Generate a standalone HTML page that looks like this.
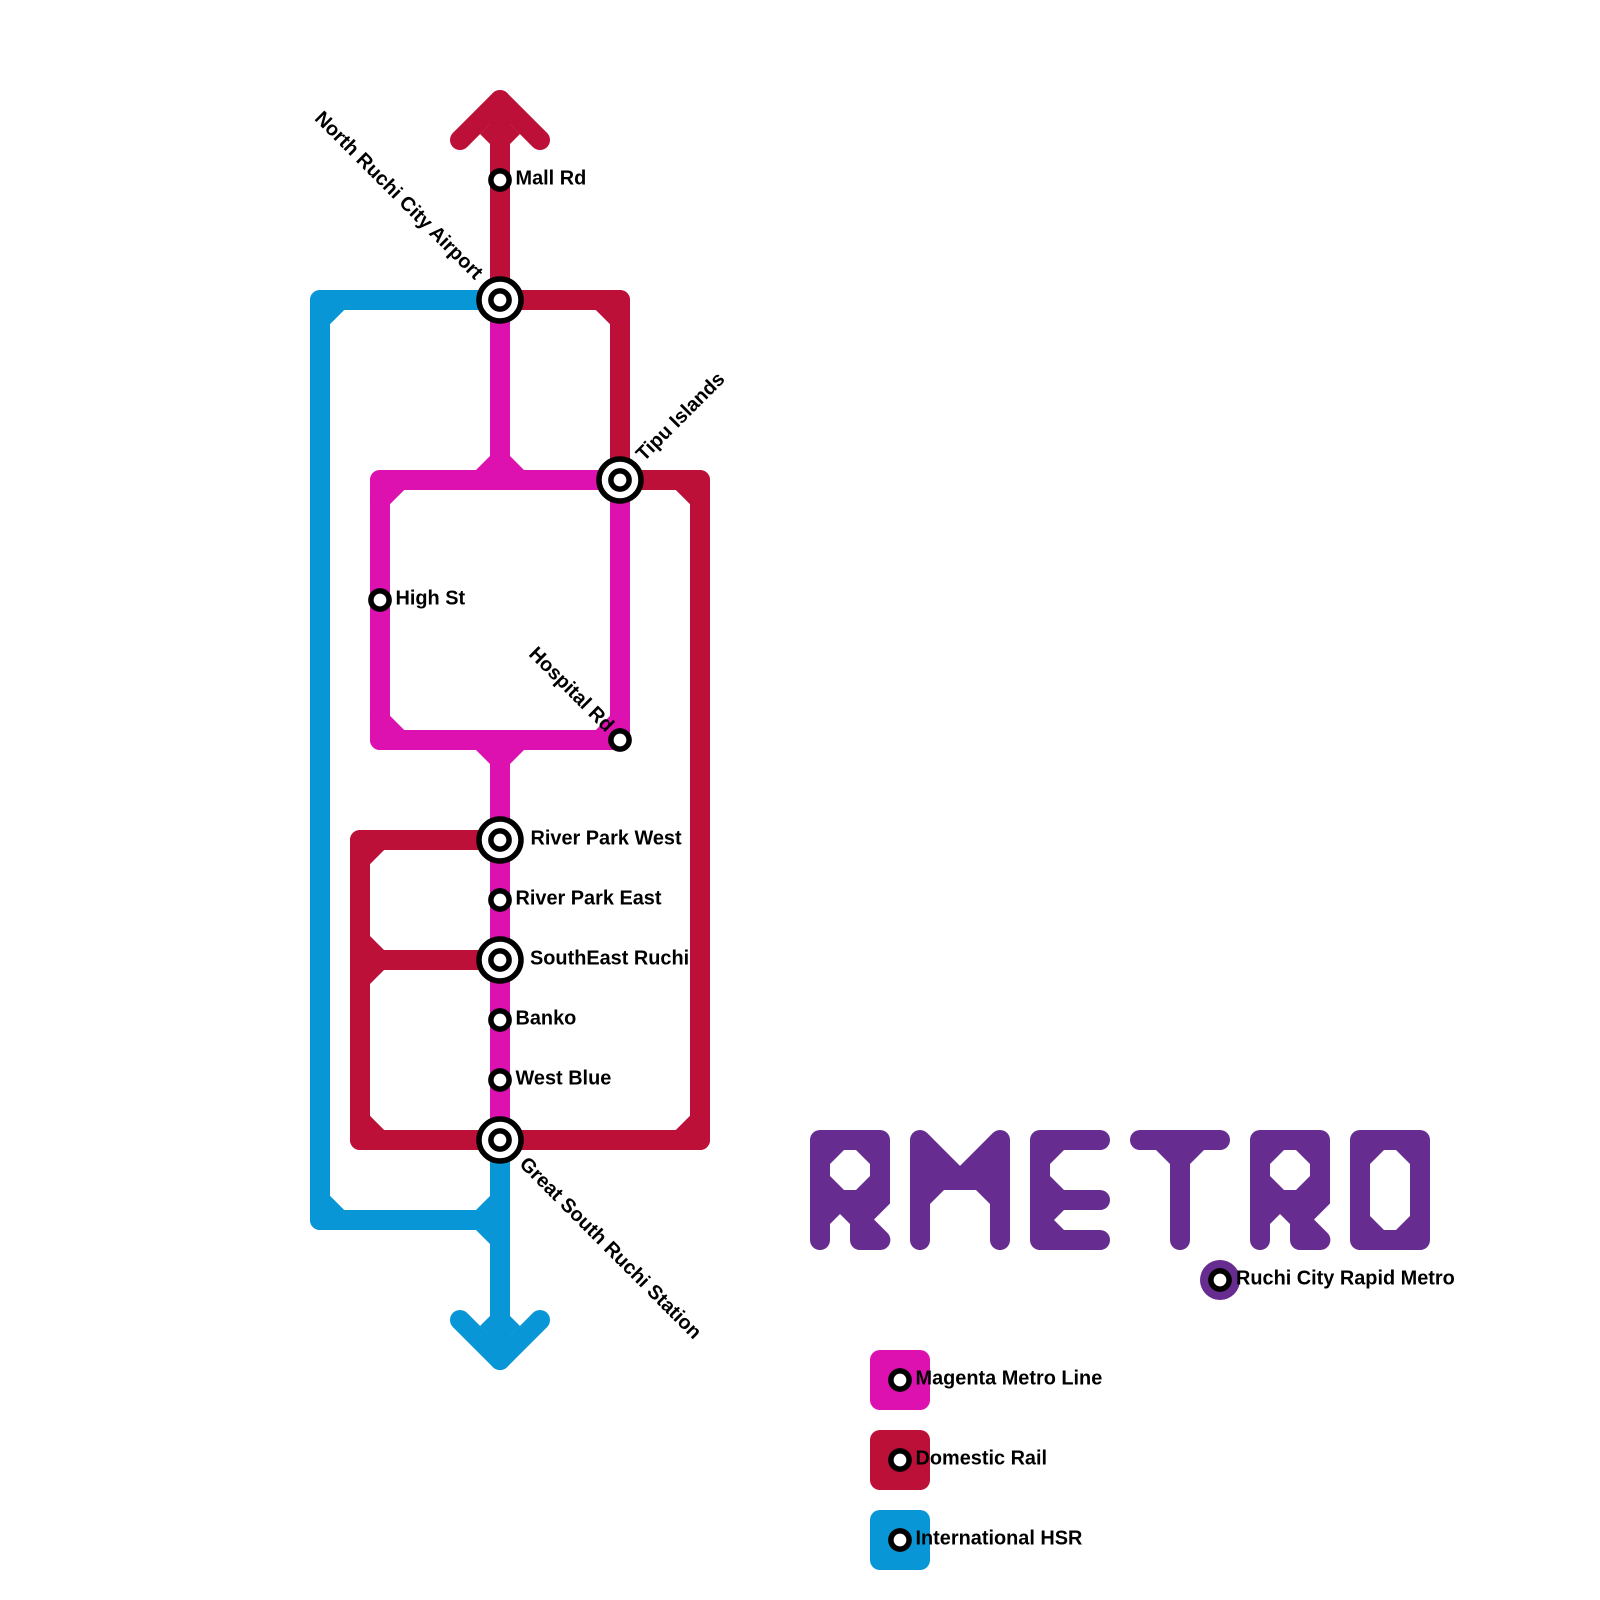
<!DOCTYPE html>
<html>
<head>
<meta charset="utf-8">
<style>
html,body{margin:0;padding:0;background:#fff}
svg{display:block}
text{font-family:"Liberation Sans",Arial,sans-serif;font-weight:bold;font-size:19.9px;fill:#000}
.l{fill:none;stroke-width:20;stroke-linecap:round;stroke-linejoin:round}
.c{stroke-width:20;stroke-linejoin:round}
.b{stroke:#0896d7}.r{stroke:#bd1038}.m{stroke:#dc11b0}
.t{stroke:none}
.s{fill:#fff;stroke:#000;stroke-width:5.5}
</style>
</head>
<body>
<svg width="1600" height="1600" viewBox="0 0 1600 1600" xmlns="http://www.w3.org/2000/svg">
<!-- blue -->
<path class="l b" d="M500 300H320V1220H500M500 1140V1360"/>
<path class="l b" d="M460 1320L500 1360L540 1320"/>
<g fill="#0896d7">
<path class="c b" d="M340 300H320V320Z"/>
<path class="c b" d="M320 1200V1220H340Z"/>
<polygon class="t" points="476,1210 490,1196 510,1196 510,1244 490,1244 476,1230"/>
<polygon class="t" points="480,1326 490,1316 510,1316 520,1326 500,1346"/>
</g>
<!-- red -->
<path class="l r" d="M500 100V300H620V480H700V1140H360V840H500M360 960H500"/>
<path class="l r" d="M460 140L500 100L540 140"/>
<g fill="#bd1038">
<path class="c r" d="M600 300H620V320Z"/>
<path class="c r" d="M680 480H700V500Z"/>
<path class="c r" d="M700 1120V1140H680Z"/>
<path class="c r" d="M380 1140H360V1120Z"/>
<path class="c r" d="M360 860V840H380Z"/>
<polygon class="t" points="350,916 370,936 384,950 384,970 370,984 350,1004"/>
<polygon class="t" points="480,134 490,144 510,144 520,134 500,114"/>
</g>
<!-- magenta -->
<path class="l m" d="M500 300V480M500 740V1140M620 480H380V740H620V480"/>
<g fill="#dc11b0">
<path class="c m" d="M400 480H380V500Z"/>
<path class="c m" d="M380 720V740H400Z"/>
<path class="c m" d="M600 740H620V720Z"/>
<polygon class="t" points="476,470 490,456 510,456 524,470"/>
<polygon class="t" points="476,750 524,750 510,764 490,764"/>
</g>
<!-- interchange stations -->
<g>
<circle class="s" cx="500" cy="300" r="21"/><circle class="s" cx="500" cy="300" r="9.1"/>
<circle class="s" cx="620" cy="480" r="21"/><circle class="s" cx="620" cy="480" r="9.1"/>
<circle class="s" cx="500" cy="840" r="21"/><circle class="s" cx="500" cy="840" r="9.1"/>
<circle class="s" cx="500" cy="960" r="21"/><circle class="s" cx="500" cy="960" r="9.1"/>
<circle class="s" cx="500" cy="1140" r="21"/><circle class="s" cx="500" cy="1140" r="9.1"/>
</g>
<!-- simple stations -->
<g>
<circle class="s" cx="500" cy="180" r="9.1"/>
<circle class="s" cx="380" cy="600" r="9.1"/>
<circle class="s" cx="620" cy="740" r="9.1"/>
<circle class="s" cx="500" cy="900" r="9.1"/>
<circle class="s" cx="500" cy="1020" r="9.1"/>
<circle class="s" cx="500" cy="1080" r="9.1"/>
</g>
<!-- labels -->
<text x="515.5" y="184.5">Mall Rd</text>
<text x="395.5" y="604.5">High St</text>
<text x="530.5" y="844.5">River Park West</text>
<text x="515.5" y="904.5">River Park East</text>
<text x="530" y="964.5">SouthEast Ruchi</text>
<text x="515.5" y="1024.5">Banko</text>
<text x="515.5" y="1084.5">West Blue</text>
<text text-anchor="end" transform="translate(475,280.5) rotate(45)">North Ruchi City Airport</text>
<text transform="translate(644,462) rotate(-45)">Tipu Islands</text>
<text text-anchor="end" transform="translate(606,733) rotate(45)">Hospital Rd</text>
<text transform="translate(518.5,1165) rotate(45)">Great South Ruchi Station</text>
<!-- title -->
<g fill="#662c90" fill-rule="evenodd">
<path d="M820 1130H880A10 10 0 0 1 890 1140V1203.5L874 1219.5L887.5 1233A10 10 0 0 1 880 1250H860A10 10 0 0 1 850 1240V1224L840 1214L830 1224V1240A10 10 0 0 1 810 1240V1140A10 10 0 0 1 820 1130ZM844 1150L830 1164V1176L844 1190H856L870 1176V1164L856 1150Z"/>
<path d="M910 1140A10 10 0 0 1 927.07 1132.93L960 1165.86L992.93 1132.93A10 10 0 0 1 1010 1140V1240A10 10 0 0 1 990 1240V1204L976 1190H944L930 1204V1240A10 10 0 0 1 910 1240Z"/>
<path d="M1040 1130H1100A10 10 0 0 1 1100 1150H1064L1050 1164V1176L1064 1190H1100A10 10 0 0 1 1100 1210H1064L1054 1220L1064 1230H1100A10 10 0 0 1 1100 1250H1040A10 10 0 0 1 1030 1240V1140A10 10 0 0 1 1040 1130Z"/>
<path d="M1140 1130H1220A10 10 0 0 1 1220 1150H1204L1190 1164V1240A10 10 0 0 1 1170 1240V1164L1156 1150H1140A10 10 0 0 1 1140 1130Z"/>
<path d="M1260 1130H1320A10 10 0 0 1 1330 1140V1203.5L1314 1219.5L1327.5 1233A10 10 0 0 1 1320 1250H1300A10 10 0 0 1 1290 1240V1224L1280 1214L1270 1224V1240A10 10 0 0 1 1250 1240V1140A10 10 0 0 1 1260 1130ZM1284 1150L1270 1164V1176L1284 1190H1296L1310 1176V1164L1296 1150Z"/>
<path d="M1360 1130H1420A10 10 0 0 1 1430 1140V1240A10 10 0 0 1 1420 1250H1360A10 10 0 0 1 1350 1240V1140A10 10 0 0 1 1360 1130ZM1384 1150L1370 1164V1216L1384 1230H1396L1410 1216V1164L1396 1150Z"/>
</g>
<circle cx="1220" cy="1280" r="20" fill="#662c90"/>
<circle class="s" cx="1220" cy="1280" r="9.1"/>
<text x="1236" y="1284.5">Ruchi City Rapid Metro</text>
<!-- legend -->
<rect x="870" y="1350" width="60" height="60" rx="10" fill="#dc11b0"/>
<rect x="870" y="1430" width="60" height="60" rx="10" fill="#bd1038"/>
<rect x="870" y="1510" width="60" height="60" rx="10" fill="#0896d7"/>
<circle class="s" cx="900" cy="1380" r="9.1"/>
<circle class="s" cx="900" cy="1460" r="9.1"/>
<circle class="s" cx="900" cy="1540" r="9.1"/>
<text x="915.5" y="1384.5">Magenta Metro Line</text>
<text x="915.5" y="1464.5">Domestic Rail</text>
<text x="915.5" y="1544.5">International HSR</text>
</svg>
</body>
</html>
